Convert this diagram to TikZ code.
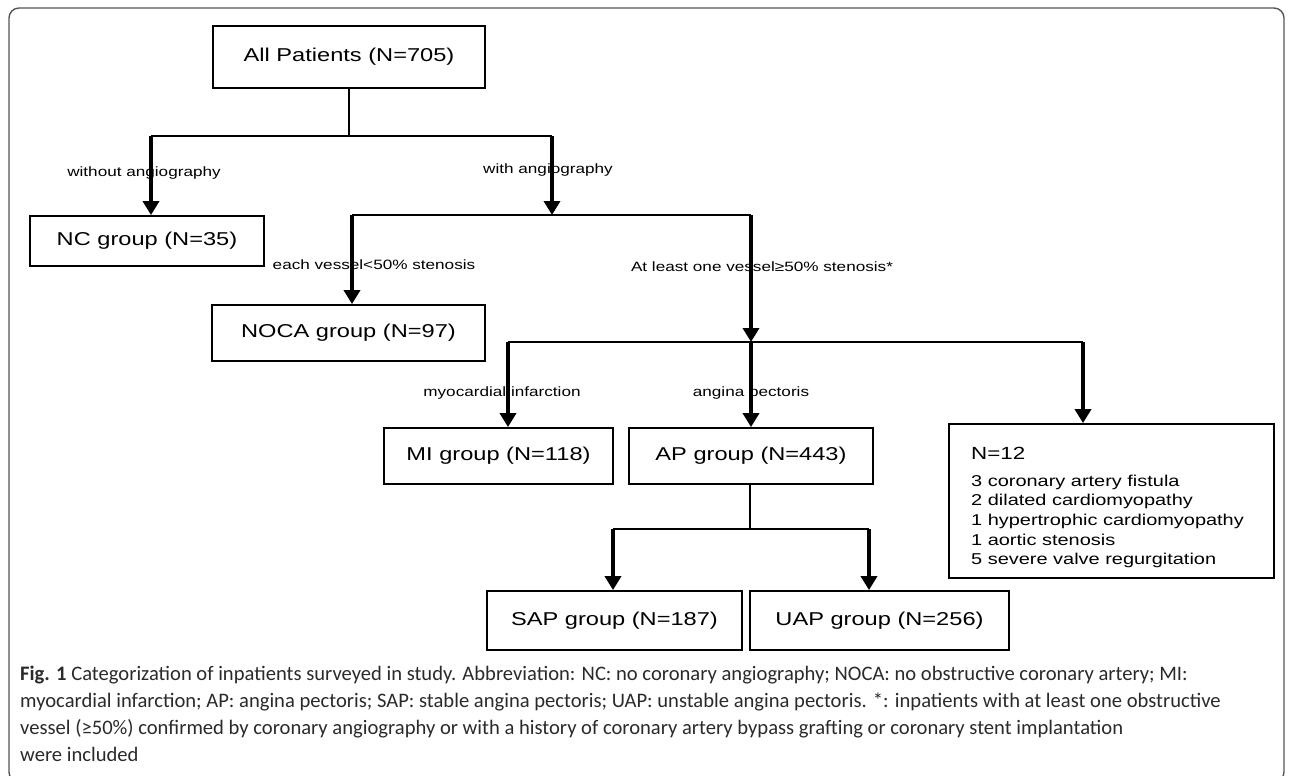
\documentclass[tikz,border=0pt]{standalone}
\usepackage{fontspec}
\setmainfont{Liberation Sans}
\newfontfamily\flow[FakeStretch=1.27]{Liberation Sans}
\newfontfamily\capfont{Carlito}
\usetikzlibrary{arrows.meta}
\definecolor{capgray}{HTML}{2A2A2A}
\definecolor{framegray}{HTML}{555555}
\tikzset{
  box/.style={draw, line width=1.8pt, inner sep=0pt, font=\flow\fontsize{18.6}{22}\selectfont},
  lbl/.style={inner sep=0pt, font=\flow\fontsize{13.5}{16}\selectfont},
  listtxt/.style={inner sep=0pt, anchor=west, font=\flow\fontsize{15.7}{18}\selectfont},
  ln/.style={line width=2pt},
  arr/.style={line width=3.5pt, -{Triangle[width=16pt,length=14pt]}},
  captxt/.style={inner sep=0pt, anchor=base west, text=capgray, font=\capfont\fontsize{20.6}{27}\selectfont}
}
\begin{document}
\begin{tikzpicture}[x=1pt,y=-1pt]
\useasboundingbox (0,0) rectangle (1290,776);
\draw[framegray, line width=1.4pt, rounded corners=10pt] (9,8) rectangle (1284,782);

% boxes
\node[box, minimum width=272pt, minimum height=62pt] (all) at (349,57) {All Patients (N=705)};
\node[box, minimum width=234pt, minimum height=50pt] (nc) at (147,241) {NC group (N=35)};
\node[box, minimum width=273pt, minimum height=56pt] (noca) at (348.5,333) {NOCA group (N=97)};
\node[box, minimum width=229pt, minimum height=56pt] (mi) at (498.5,456) {MI group (N=118)};
\node[box, minimum width=244pt, minimum height=56pt] (ap) at (751,456) {AP group (N=443)};
\node[box, minimum width=325pt, minimum height=154pt] (n12) at (1111.5,501) {};
\node[box, minimum width=255pt, minimum height=59pt] (sap) at (614.5,620.5) {SAP group (N=187)};
\node[box, minimum width=259pt, minimum height=59pt] (uap) at (879.5,620.5) {UAP group (N=256)};

% N=12 contents
\node[listtxt, font=\flow\fontsize{17.6}{20}\selectfont] (t0) at (971,453) {N=12};
\node[listtxt] (t1) at (971,482) {3 coronary artery fistula};
\node[listtxt] (t2) at (971,501) {2 dilated cardiomyopathy};
\node[listtxt] (t3) at (971,521) {1 hypertrophic cardiomyopathy};
\node[listtxt] (t4) at (971,540) {1 aortic stenosis};
\node[listtxt] (t5) at (971,560) {5 severe valve regurgitation};

% labels
\node[lbl] (l1) at (144,173) {without angiography};
\node[lbl] (l2) at (548,170) {with angiography};
\node[lbl] (l3) at (374,265) {each vessel<50\% stenosis};
\node[lbl] (l4) at (762,267) {At least one vessel≥50\% stenosis*};
\node[lbl] (l5) at (502,393) {myocardial infarction};
\node[lbl] (l6) at (751,393) {angina pectoris};

% junctions
\coordinate (j1) at (349,136);
\coordinate (j1l) at (151,136);
\coordinate (j1r) at (552,136);
\coordinate (j2) at (552,215);
\coordinate (j2l) at (352,215);
\coordinate (j2r) at (751,215);
\coordinate (j3) at (751,342);
\coordinate (j3l) at (508,342);
\coordinate (j3r) at (1083,342);
\coordinate (j4) at (750,529);
\coordinate (j4l) at (613,529);
\coordinate (j4r) at (869,529);

% connectors
\draw[ln] (all.south) -- (j1);
\draw[ln] (j1l) -- (j1r);
\draw[arr] (j1l) -- (j1l |- nc.north);
\draw[arr] (j1r) -- (j2);
\draw[ln] (j2l) -- (j2r);
\draw[arr] (j2l) -- (j2l |- noca.north);
\draw[arr] (j2r) -- (j3);
\draw[ln] (j3l) -- (j3r);
\draw[arr] (j3l) -- (j3l |- mi.north);
\draw[arr] (j3) -- (j3 |- ap.north);
\draw[arr] (j3r) -- (j3r |- n12.north);
\draw[ln] (ap.south -| j4) -- (j4);
\draw[ln] (j4l) -- (j4r);
\draw[arr] (j4l) -- (j4l |- sap.north);
\draw[arr] (j4r) -- (j4r |- uap.north);

% caption
\node[captxt] (c1) at (20,680) {\textbf{Fig. 1} Categorization of inpatients surveyed in study. Abbreviation: NC: no coronary angiography; NOCA: no obstructive coronary artery; MI:};
\node[captxt] (c2) at (20,707) {myocardial infarction; AP: angina pectoris; SAP: stable angina pectoris; UAP: unstable angina pectoris. *: inpatients with at least one obstructive};
\node[captxt] (c3) at (20,734) {vessel (≥50\%) confirmed by coronary angiography or with a history of coronary artery bypass grafting or coronary stent implantation};
\node[captxt] (c4) at (20,761) {were included};
\end{tikzpicture}
\end{document}
